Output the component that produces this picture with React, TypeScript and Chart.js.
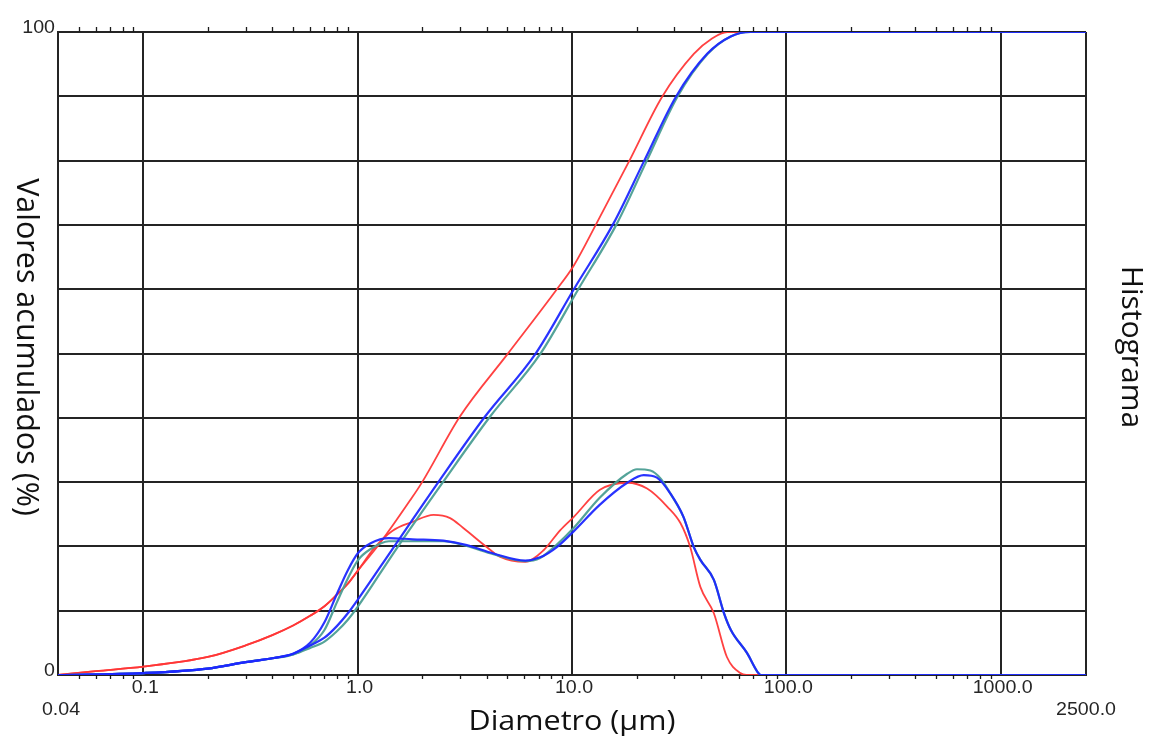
import React, { useEffect, useRef } from "react";
import { Chart, registerables } from "chart.js";

Chart.register(...registerables);

// ---- Data (diameter in µm, value in %) ----
const redCumD = [0.04, 0.06, 0.1, 0.2, 0.3, 0.4, 0.5, 0.6, 0.7, 0.8, 0.9, 1.0, 1.27, 1.76, 2.0, 3.0, 5.0, 8.5, 10.2, 13.0, 18.4, 26.3, 37.0, 45.0, 53.0, 2500];
const redCumV = [0, 0.6, 1.3, 2.8, 4.6, 6.2, 7.7, 9.2, 10.7, 12.5, 14.2, 16.2, 20.5, 27.2, 30.0, 40.2, 49.9, 60.0, 63.7, 70.2, 79.8, 89.9, 96.6, 99.0, 100, 100];

const redHistD = [0.04, 0.06, 0.1, 0.2, 0.3, 0.4, 0.5, 0.6, 0.7, 0.8, 0.9, 1.0, 1.2, 1.45, 1.8, 2.26, 2.7, 3.1, 4.0, 4.6, 6.05, 7.37, 8.8, 10.2, 13.5, 18.1, 22.4, 27.8, 32.1, 35.6, 39.7, 45.9, 52.8, 61.0, 65.0, 2500];
const redHistV = [0, 0.6, 1.3, 2.8, 4.6, 6.2, 7.7, 9.2, 10.7, 12.5, 14.2, 16.2, 19.8, 22.4, 23.8, 24.9, 24.4, 22.9, 19.9, 18.4, 17.6, 19.4, 22.5, 24.6, 28.8, 29.9, 29.0, 26.2, 23.6, 19.9, 13.7, 9.6, 2.8, 0.3, 0, 0];

const blueCumD = [0.04, 0.1, 0.2, 0.3, 0.4, 0.5, 0.6, 0.7, 0.8, 0.9, 1.0, 1.44, 2.38, 3.93, 6.74, 10.2, 15.6, 21.6, 30.5, 42.7, 55.0, 68.0, 2500];
const blueCumV = [0, 0.3, 1.0, 2.0, 2.6, 3.3, 4.6, 5.8, 7.6, 9.6, 11.7, 19.4, 30.0, 40.2, 49.9, 60.0, 70.2, 79.8, 89.9, 96.6, 99.3, 100, 100];

const blueHistD = [0.04, 0.1, 0.2, 0.3, 0.4, 0.5, 0.6, 0.7, 0.8, 0.9, 1.0, 1.15, 1.4, 1.8, 2.51, 3.23, 4.3, 6.05, 7.1, 8.5, 10.15, 13.5, 18.1, 21.6, 24.9, 28.8, 33.1, 37.0, 39.7, 45.9, 51.2, 55.1, 65.6, 73.3, 76.0, 2500];
const blueHistV = [0, 0.3, 1.0, 2.0, 2.6, 3.3, 5.0, 8.2, 12.6, 16.3, 18.9, 20.5, 21.3, 21.1, 20.9, 20.2, 18.9, 17.8, 18.3, 19.9, 22.3, 26.5, 29.9, 31.1, 30.7, 28.2, 24.6, 19.9, 17.9, 14.8, 9.6, 7.0, 3.4, 0.5, 0, 0];

const tealCumD = [0.04, 0.1, 0.2, 0.3, 0.4, 0.5, 0.6, 0.7, 0.8, 0.9, 1.0, 1.5, 2.5, 4.15, 7.1, 10.7, 16.2, 22.2, 31.0, 43.0, 55.0, 68.0, 2500];
const tealCumV = [0, 0.3, 1.0, 2.0, 2.6, 3.2, 4.2, 5.2, 6.8, 8.6, 10.6, 19.4, 30.0, 40.2, 49.9, 60.0, 70.2, 79.8, 89.9, 96.6, 99.3, 100, 100];

const tealHistD = [0.04, 0.1, 0.2, 0.3, 0.4, 0.5, 0.6, 0.7, 0.8, 0.9, 1.0, 1.15, 1.4, 2.0, 2.5, 3.2, 4.3, 6.05, 7.1, 8.5, 10.2, 13.5, 18.1, 20.1, 23.2, 26.0, 28.8, 33.1, 37.0, 39.7, 45.9, 51.2, 55.1, 65.6, 73.3, 76.0, 2500];
const tealHistV = [0, 0.3, 1.0, 2.0, 2.6, 3.2, 4.6, 7.0, 11.3, 15.0, 17.8, 19.6, 20.8, 20.8, 20.8, 20.1, 18.8, 17.7, 18.2, 20.3, 22.9, 27.6, 31.3, 32.0, 31.8, 30.5, 28.2, 24.6, 19.9, 17.9, 14.8, 9.6, 7.0, 3.4, 0.5, 0, 0];

// ---- Axes ----
const xMin = 0.04;
const xMax = 2500;
const xGridValues = [0.04, 0.1, 1, 10, 100, 1000, 2500];
const xMajorValues = [0.1, 1, 10, 100, 1000];
const xMajorLabels = ["0.1", "1.0", "10.0", "100.0", "1000.0"];
const xEndValues = [0.04, 2500];
const xEndLabels = ["0.04", "2500.0"];
const xMinorMultipliers = [2, 3, 4, 5, 6, 7, 8, 9];
const xMinorDecades = [0.01, 0.1, 1, 10, 100];
const yLabelValues = [0, 100];
const yLabels = ["0", "100"];
const xTitle = "Diametro (µm)";
const yTitle = "Valores acumulados (%)";
const y2Title = "Histograma";

const RED = "rgba(255,55,55,0.95)";
const BLUE = "rgba(30,40,255,0.95)";
const TEAL = "rgba(75,158,148,0.95)";
const GRID = "#242424";

const pts = (d: number[], v: number[]) => d.map((x, i) => ({ x, y: v[i] }));

const minorTicks: number[] = [];
xMinorDecades.forEach((dec) =>
  xMinorMultipliers.forEach((m) => {
    const v = dec * m;
    if (v > xMin && v < 1000) minorTicks.push(v);
  })
);

const STRETCH = 1.09;

const decorPlugin = {
  id: "decor",
  afterDraw(chart: any) {
    const { ctx, chartArea: a } = chart;
    const x = chart.scales.x;
    const y = chart.scales.y;
    ctx.save();
    ctx.strokeStyle = "#1a1a1a";
    ctx.lineWidth = 1.3;
    ctx.beginPath();
    for (const m of minorTicks) {
      const px = Math.round(x.getPixelForValue(m)) + 0.5;
      ctx.moveTo(px, a.top - 5);
      ctx.lineTo(px, a.top);
      ctx.moveTo(px, a.bottom);
      ctx.lineTo(px, a.bottom + 4);
    }
    ctx.stroke();

    const hText = (t: string, cx: number, cy: number, align: CanvasTextAlign, font: string, color: string) => {
      ctx.save();
      ctx.translate(cx, cy);
      ctx.scale(STRETCH, 1);
      ctx.font = font;
      ctx.fillStyle = color;
      ctx.textAlign = align;
      ctx.textBaseline = "alphabetic";
      ctx.fillText(t, 0, 0);
      ctx.restore();
    };
    const vText = (t: string, cx: number, cy: number, font: string, color: string) => {
      ctx.save();
      ctx.translate(cx, cy);
      ctx.rotate(Math.PI / 2);
      ctx.font = font;
      ctx.fillStyle = color;
      ctx.textAlign = "center";
      ctx.textBaseline = "middle";
      ctx.fillText(t, 0, 0);
      ctx.restore();
    };

    const tickFont = '18px "Liberation Sans", Arial, sans-serif';
    const tickColor = "#262626";
    xMajorValues.forEach((v, i) => {
      hText(xMajorLabels[i], x.getPixelForValue(v) + 2, a.bottom + 18, "center", tickFont, tickColor);
    });
    xEndValues.forEach((v, i) => {
      hText(xEndLabels[i], x.getPixelForValue(v) + (i === 0 ? 3 : 0), a.bottom + 40, "center", tickFont, tickColor);
    });
    yLabelValues.forEach((v, i) => {
      hText(yLabels[i], a.left - 3, y.getPixelForValue(v) + 1, "right", tickFont, tickColor);
    });

    hText(xTitle, (a.left + a.right) / 2, 730, "center", '28px "Open Sans", sans-serif', "#111");
    vText(yTitle, 26, 347, '30.5px "Open Sans", sans-serif', "#111");
    vText(y2Title, 1131, 347, '30px "Open Sans", sans-serif', "#111");
    ctx.restore();
  },
};

export default function App() {
  const ref = useRef<HTMLCanvasElement | null>(null);
  useEffect(() => {
    if (!ref.current) return;
    const line = (label: string, d: number[], v: number[], color: string, w: number) => ({
      label,
      data: pts(d, v),
      borderColor: color,
      backgroundColor: color,
      borderWidth: w,
      pointRadius: 0,
      fill: false,
      cubicInterpolationMode: "monotone" as const,
    });
    const chart = new Chart(ref.current, {
      type: "line",
      data: {
        datasets: [
          line("Azul acumulado", blueCumD, blueCumV, BLUE, 2.2),
          line("Azul histograma", blueHistD, blueHistV, BLUE, 2.2),
          line("Verde acumulado", tealCumD, tealCumV, TEAL, 2.2),
          line("Verde histograma", tealHistD, tealHistV, TEAL, 2.2),
          line("Rojo acumulado", redCumD, redCumV, RED, 1.8),
          line("Rojo histograma", redHistD, redHistV, RED, 1.8),
        ],
      },
      options: {
        responsive: false,
        animation: false,
        devicePixelRatio: 1,
        layout: { padding: { left: 58, right: 63, top: 32, bottom: 61 } },
        plugins: { legend: { display: false }, tooltip: { enabled: false } },
        scales: {
          x: {
            type: "logarithmic",
            min: xMin,
            max: xMax,
            afterBuildTicks: (s: any) => {
              s.ticks = xGridValues.map((value) => ({ value }));
            },
            ticks: { display: false },
            grid: { color: GRID, lineWidth: 2, drawTicks: false },
            border: { display: true, color: GRID, width: 2 },
          },
          y: {
            type: "linear",
            min: 0,
            max: 100,
            ticks: { display: false, stepSize: 10 },
            grid: { color: GRID, lineWidth: 2, drawTicks: false },
            border: { display: true, color: GRID, width: 2 },
          },
        },
      },
      plugins: [decorPlugin],
    });
    return () => chart.destroy();
  }, []);
  return (
    <div style={{ position: "fixed", left: 0, top: 0, width: 1149, height: 736, background: "#fff" }}>
      <canvas ref={ref} width={1149} height={736} />
    </div>
  );
}
